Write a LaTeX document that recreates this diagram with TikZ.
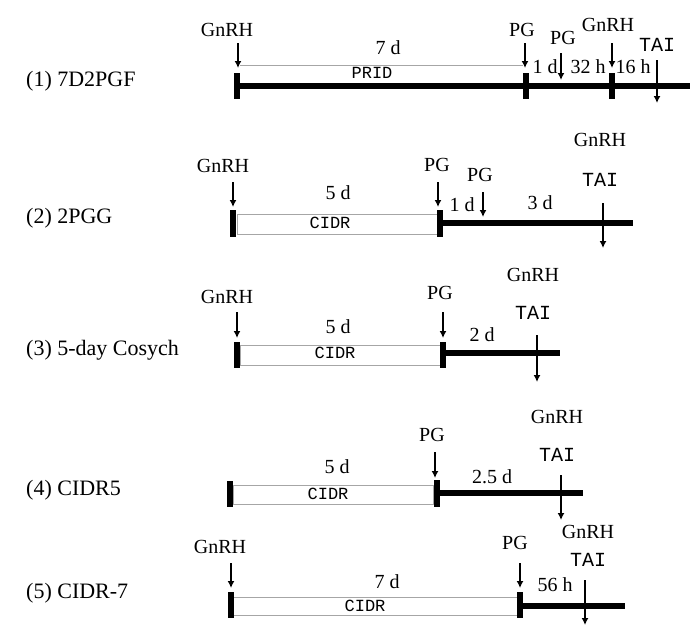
\documentclass[tikz,border=0pt]{standalone}
\usepackage{fontspec}
\setmainfont{Liberation Serif}
\newfontfamily\cidrfont{Liberation Mono}
\usetikzlibrary{arrows.meta}

\begin{document}
\begin{tikzpicture}[x=1pt, y=-1pt,
    dose/.style={-{Latex[length=7pt,width=7pt]}, line width=1.5pt},
    bar/.style={line width=6pt},
    tickbar/.style={line width=6pt},
    rod/.style={draw=gray!70, line width=0.8pt},
    protocol/.style={anchor=base west, font=\fontsize{22}{24}\selectfont},
    device/.style={font=\cidrfont\fontsize{17}{18}\selectfont},
    tai/.style={font=\cidrfont\fontsize{20}{22}\selectfont}]
        \tikzstyle{every node}=[font=\fontsize{20}{22}\selectfont, inner sep=1pt]
        \useasboundingbox (0,0) rectangle (700,637);

          % (1) 7D2PGF
          \node[protocol] (r1) at (25,86) {(1) 7D2PGF};
          \draw[rod] (240,65) -- (523,65);
          \draw[bar] (235,86) -- (690,86);
          \draw[tickbar] (237,73) -- (237,99);
          \draw[tickbar] (526,73) -- (526,99);
          \draw[tickbar] (612,73) -- (612,99);
          \node[device] (d1) at (372,73) {PRID};
          \node (t1a) at (388,48) {7 d};
          \node (t1b) at (545,67) {1 d};
          \node (t1c) at (588,67) {32 h};
          \node (t1d) at (633,67) {16 h};
          \node (g1a) at (227,30) {GnRH};
          \node (p1a) at (522,30) {PG};
          \node (p1b) at (563,38) {PG};
          \node (g1b) at (608,25) {GnRH};
          \node[tai] (ai1) at (657,45) {TAI};
          \coordinate (a11) at (238,43); \coordinate (b11) at (238,68);
          \coordinate (a12) at (525,43); \coordinate (b12) at (525,68);
          \coordinate (a13) at (561,53); \coordinate (b13) at (561,80);
          \coordinate (a14) at (612,43); \coordinate (b14) at (612,68);
          \coordinate (a15) at (657,60); \coordinate (b15) at (657,103);
          \path[dose] (a11) edge (b11) (a12) edge (b12) (a13) edge (b13)
                      (a14) edge (b14) (a15) edge (b15);

          % (2) 2PGG
          \node[protocol] (r2) at (25,223) {(2) 2PGG};
          \draw[rod] (237,214) rectangle (438,234);
          \draw[bar] (440,223) -- (633,223);
          \draw[tickbar] (233,210) -- (233,237);
          \draw[tickbar] (440,210) -- (440,237);
          \node[device] (d2) at (330,223) {CIDR};
          \node (t2a) at (338,193) {5 d};
          \node (t2b) at (462,205) {1 d};
          \node (t2c) at (540,203) {3 d};
          \node (g2a) at (223,166) {GnRH};
          \node (p2a) at (437,165) {PG};
          \node (p2b) at (480,175) {PG};
          \node (g2b) at (600,140) {GnRH};
          \node[tai] (ai2) at (600,180) {TAI};
          \coordinate (a21) at (233,182); \coordinate (b21) at (233,207);
          \coordinate (a22) at (438,182); \coordinate (b22) at (438,207);
          \coordinate (a23) at (483,192); \coordinate (b23) at (483,217);
          \coordinate (a24) at (603,203); \coordinate (b24) at (603,248);
          \path[dose] (a21) edge (b21) (a22) edge (b22) (a23) edge (b23)
                      (a24) edge (b24);

          % (3) 5-day Cosych
          \node[protocol] (r3) at (25,355) {(3) 5-day Cosych};
          \draw[rod] (240,345) rectangle (442,365);
          \draw[bar] (445,353) -- (560,353);
          \draw[tickbar] (237,342) -- (237,368);
          \draw[tickbar] (443,342) -- (443,368);
          \node[device] (d3) at (335,353) {CIDR};
          \node (t3a) at (338,327) {5 d};
          \node (t3b) at (482,335) {2 d};
          \node (g3a) at (227,297) {GnRH};
          \node (p3a) at (440,293) {PG};
          \node (g3b) at (533,275) {GnRH};
          \node[tai] (ai3) at (533,313) {TAI};
          \coordinate (a31) at (237,312); \coordinate (b31) at (237,338);
          \coordinate (a32) at (443,312); \coordinate (b32) at (443,338);
          \coordinate (a33) at (537,335); \coordinate (b33) at (537,382);
          \path[dose] (a31) edge (b31) (a32) edge (b32) (a33) edge (b33);

          % (4) CIDR5
          \node[protocol] (r4) at (25,495) {(4) CIDR5};
          \draw[rod] (233,485) rectangle (433,504);
          \draw[bar] (440,493) -- (583,493);
          \draw[tickbar] (230,481) -- (230,507);
          \draw[tickbar] (437,480) -- (437,507);
          \node[device] (d4) at (328,494) {CIDR};
          \node (t4a) at (337,467) {5 d};
          \node (t4b) at (492,477) {2.5 d};
          \node (p4a) at (432,435) {PG};
          \node (g4b) at (557,417) {GnRH};
          \node[tai] (ai4) at (557,455) {TAI};
          \coordinate (a41) at (435,452); \coordinate (b41) at (435,478);
          \coordinate (a42) at (561,475); \coordinate (b42) at (561,520);
          \path[dose] (a41) edge (b41) (a42) edge (b42);

          % (5) CIDR-7
          \node[protocol] (r5) at (25,598) {(5) CIDR-7};
          \draw[rod] (233,597) rectangle (517,615);
          \draw[bar] (522,606) -- (625,606);
          \draw[tickbar] (231,592) -- (231,618);
          \draw[tickbar] (520,592) -- (520,618);
          \node[device] (d5) at (365,606) {CIDR};
          \node (t5a) at (387,582) {7 d};
          \node (t5b) at (555,585) {56 h};
          \node (g5a) at (220,547) {GnRH};
          \node (p5a) at (515,543) {PG};
          \node (g5b) at (588,532) {GnRH};
          \node[tai] (ai5) at (588,560) {TAI};
          \coordinate (a51) at (231,563); \coordinate (b51) at (231,588);
          \coordinate (a52) at (520,563); \coordinate (b52) at (520,588);
          \coordinate (a53) at (585,580); \coordinate (b53) at (585,625);
          \path[dose] (a51) edge (b51) (a52) edge (b52) (a53) edge (b53);

        \end{tikzpicture}
\end{document}
